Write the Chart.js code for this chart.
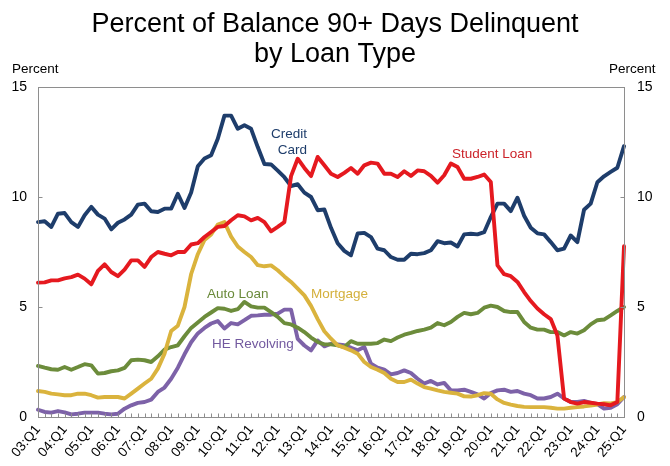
<!DOCTYPE html>
<html><head><meta charset="utf-8">
<script src="https://cdn.jsdelivr.net/npm/chart.js@4.4.1/dist/chart.umd.min.js"></script>
<style>html,body{margin:0;padding:0;background:#fff;}#wrap{width:670px;height:466px;position:relative;}</style>
</head><body><div id="wrap"><canvas id="c" width="670" height="466"></canvas></div>
<script>
const quarters = [
'03:Q1','03:Q2','03:Q3','03:Q4','04:Q1','04:Q2','04:Q3','04:Q4','05:Q1','05:Q2','05:Q3','05:Q4',
'06:Q1','06:Q2','06:Q3','06:Q4','07:Q1','07:Q2','07:Q3','07:Q4','08:Q1','08:Q2','08:Q3','08:Q4',
'09:Q1','09:Q2','09:Q3','09:Q4','10:Q1','10:Q2','10:Q3','10:Q4','11:Q1','11:Q2','11:Q3','11:Q4',
'12:Q1','12:Q2','12:Q3','12:Q4','13:Q1','13:Q2','13:Q3','13:Q4','14:Q1','14:Q2','14:Q3','14:Q4',
'15:Q1','15:Q2','15:Q3','15:Q4','16:Q1','16:Q2','16:Q3','16:Q4','17:Q1','17:Q2','17:Q3','17:Q4',
'18:Q1','18:Q2','18:Q3','18:Q4','19:Q1','19:Q2','19:Q3','19:Q4','20:Q1','20:Q2','20:Q3','20:Q4',
'21:Q1','21:Q2','21:Q3','21:Q4','22:Q1','22:Q2','22:Q3','22:Q4','23:Q1','23:Q2','23:Q3','23:Q4',
'24:Q1','24:Q2','24:Q3','24:Q4','25:Q1'];

const creditCard = [8.86,8.9,8.64,9.24,9.27,8.86,8.64,9.17,9.55,9.2,9.02,8.53,8.83,8.98,9.2,9.65,9.7,9.35,9.32,9.47,9.47,10.15,9.5,10.2,11.4,11.75,11.9,12.65,13.7,13.7,13.1,13.26,13.1,12.27,11.5,11.48,11.2,10.9,10.5,10.58,10.2,10.0,9.4,9.43,8.6,7.9,7.55,7.35,8.34,8.37,8.18,7.65,7.58,7.27,7.15,7.15,7.42,7.4,7.45,7.58,7.99,7.9,7.93,7.75,8.3,8.33,8.3,8.4,9.09,9.7,9.7,9.36,9.97,9.15,8.6,8.35,8.3,7.95,7.58,7.65,8.25,7.95,9.42,9.7,10.67,10.94,11.14,11.33,12.31];
const studentLoan = [6.11,6.12,6.21,6.21,6.3,6.36,6.47,6.29,6.03,6.64,6.94,6.59,6.4,6.7,7.12,7.12,6.82,7.27,7.5,7.42,7.35,7.5,7.5,7.84,7.9,8.18,8.41,8.64,8.68,8.94,9.17,9.12,8.94,9.05,8.86,8.44,8.64,8.86,10.95,11.74,11.32,10.95,11.82,11.44,11.06,10.91,11.1,11.32,11.06,11.44,11.56,11.52,11.06,11.06,10.91,11.17,10.96,11.21,11.17,10.96,10.65,10.99,11.52,11.36,10.83,10.83,10.91,11.02,10.68,6.89,6.49,6.4,6.14,5.68,5.27,4.93,4.67,4.45,3.7,0.84,0.68,0.61,0.68,0.65,0.61,0.58,0.53,0.68,7.76];
const mortgage = [1.18,1.14,1.06,1.03,0.99,0.99,1.06,1.06,0.99,0.88,0.91,0.91,0.91,0.84,1.06,1.29,1.52,1.74,2.2,2.88,3.91,4.15,5.0,6.5,7.4,8.05,8.3,8.75,8.86,8.2,7.75,7.5,7.27,6.9,6.85,6.89,6.67,6.39,6.14,5.84,5.53,5.05,4.45,3.9,3.56,3.26,3.15,3.03,2.88,2.5,2.27,2.15,2.0,1.74,1.59,1.59,1.7,1.52,1.36,1.29,1.21,1.14,1.1,1.06,0.94,0.93,0.99,1.08,1.06,0.8,0.64,0.56,0.5,0.46,0.45,0.45,0.45,0.42,0.38,0.38,0.42,0.45,0.48,0.52,0.57,0.63,0.62,0.68,0.9];
const autoLoan = [2.32,2.24,2.17,2.15,2.27,2.15,2.27,2.4,2.35,1.97,2.0,2.08,2.12,2.23,2.58,2.61,2.58,2.5,2.76,3.06,3.18,3.26,3.67,4.05,4.3,4.55,4.75,4.95,4.92,4.82,4.9,5.23,5.03,4.97,4.97,4.77,4.55,4.27,4.21,4.06,3.86,3.61,3.41,3.3,3.3,3.26,3.18,3.45,3.33,3.33,3.33,3.36,3.52,3.45,3.61,3.74,3.82,3.91,3.97,4.06,4.27,4.17,4.32,4.55,4.73,4.67,4.73,4.97,5.06,5.0,4.82,4.77,4.77,4.32,4.06,3.97,3.97,3.86,3.86,3.71,3.86,3.79,3.94,4.21,4.4,4.43,4.62,4.82,5.0];
const heRevolving = [0.33,0.23,0.2,0.27,0.21,0.12,0.15,0.2,0.2,0.2,0.15,0.12,0.15,0.38,0.53,0.64,0.68,0.79,1.14,1.34,1.74,2.24,2.85,3.4,3.8,4.05,4.25,4.36,4.02,4.27,4.21,4.4,4.6,4.62,4.65,4.65,4.7,4.88,4.88,3.55,3.25,3.03,3.48,3.21,3.33,3.3,3.26,3.15,3.03,3.18,2.42,2.24,2.15,1.94,2.0,2.12,2.0,1.74,1.52,1.64,1.48,1.55,1.21,1.21,1.24,1.14,1.03,0.84,1.09,1.21,1.24,1.14,1.18,1.06,0.99,0.84,0.84,0.91,1.06,0.84,0.68,0.68,0.73,0.64,0.58,0.38,0.42,0.58,0.91];

const yTicks = [0, 5, 10, 15];
const titleLines = ['Percent of Balance 90+ Days Delinquent', 'by Loan Type'];
const axisTitle = 'Percent';

const FONT = '"Liberation Sans", Arial, Helvetica, sans-serif';
const COLORS = {credit:'#1E3D6B', student:'#E5191F', mortgage:'#DAB33D', auto:'#6C8C3B', he:'#7D62A8'};

const seriesLabels = [
  {text:'Credit', x:307, y:138, align:'right', color:'#1E3D6B'},
  {text:'Card', x:307, y:154, align:'right', color:'#1E3D6B'},
  {text:'Student Loan', x:452, y:158, align:'left', color:'#CC2229'},
  {text:'Auto Loan', x:207, y:298, align:'left', color:'#6A8A3A'},
  {text:'Mortgage', x:311, y:298, align:'left', color:'#D4B03C'},
  {text:'HE Revolving', x:212, y:348, align:'left', color:'#72599F'}
];

const decor = {
  id: 'decor',
  afterDraw(chart) {
    const ctx = chart.ctx, a = chart.chartArea;
    const xs = chart.scales.x, ys = chart.scales.y;
    ctx.save();
    ctx.strokeStyle = '#8E8E8E';
    ctx.lineWidth = 1;
    const L = Math.round(a.left) + 0.5, R = Math.round(a.right) + 0.5, T = Math.round(a.top) + 0.5, B = Math.round(a.bottom) + 0.5;
    ctx.strokeRect(L, T, R - L, B - T);
    ctx.beginPath();
    for (let i = 0; i < quarters.length; i++) {
      const px = Math.round(xs.getPixelForValue(i)) + 0.5;
      ctx.moveTo(px, B); ctx.lineTo(px, B - 4);
    }
    yTicks.forEach(v => {
      const py = Math.round(ys.getPixelForValue(v)) + 0.5;
      ctx.moveTo(L, py); ctx.lineTo(L + 4, py);
      ctx.moveTo(R, py); ctx.lineTo(R - 4, py);
    });
    ctx.stroke();

    ctx.fillStyle = '#000';
    ctx.textAlign = 'center';
    ctx.textBaseline = 'alphabetic';
    ctx.font = '27px ' + FONT;
    ctx.fillText(titleLines[0], 335, 32);
    ctx.fillText(titleLines[1], 335, 62);

    ctx.font = '13.5px ' + FONT;
    ctx.textAlign = 'left';
    ctx.fillText(axisTitle, 12, 73);
    ctx.fillText(axisTitle, 609, 73);

    seriesLabels.forEach(s => {
      ctx.fillStyle = s.color;
      ctx.textAlign = s.align;
      ctx.fillText(s.text, s.x, s.y);
    });
    ctx.restore();
  }
};

const ds = (label, data, color) => ({label, data, borderColor: color, backgroundColor: color, fill:false,
  borderWidth:3.9, pointRadius:0, tension:0, borderJoinStyle:'round', borderCapStyle:'round', yAxisID:'y'});

new Chart(document.getElementById('c'), {
  type: 'line',
  data: {
    labels: quarters,
    datasets: [
      ds('Student Loan', studentLoan, COLORS.student),
      ds('Credit Card', creditCard, COLORS.credit),
      ds('Mortgage', mortgage, COLORS.mortgage),
      ds('Auto Loan', autoLoan, COLORS.auto),
      ds('HE Revolving', heRevolving, COLORS.he)
    ]
  },
  options: {
    responsive: false,
    animation: false,
    devicePixelRatio: 1,
    layout: {padding: {top: 87, left: 0, right: 0, bottom: 0}},
    plugins: {legend: {display:false}, tooltip: {enabled:false}, title: {display:false}},
    scales: {
      x: {
        type: 'category', offset: false,
        grid: {display:false, drawTicks:false}, border: {display:false},
        ticks: {autoSkip:false, maxRotation:50, minRotation:50, padding:5, color:'#000',
          font: {family: FONT, size: 13.5},
          callback: function(v) { const l = this.getLabelForValue(v); return l.endsWith('Q1') ? l : ''; }},
        afterFit: s => { s.height = 49; s.paddingLeft = 0; s.paddingRight = 0; }
      },
      y: {
        position: 'left', min: 0, max: 15,
        grid: {display:false, drawTicks:false}, border: {display:false},
        ticks: {stepSize:5, padding:11, color:'#000', font:{family: FONT, size: 14}},
        afterFit: s => { s.width = 38; }
      },
      y2: {
        position: 'right', min: 0, max: 15,
        grid: {display:false, drawTicks:false}, border: {display:false},
        ticks: {stepSize:5, padding:13, color:'#000', font:{family: FONT, size: 14}},
        afterFit: s => { s.width = 46; }
      }
    }
  },
  plugins: [decor]
});
</script>
</body></html>
